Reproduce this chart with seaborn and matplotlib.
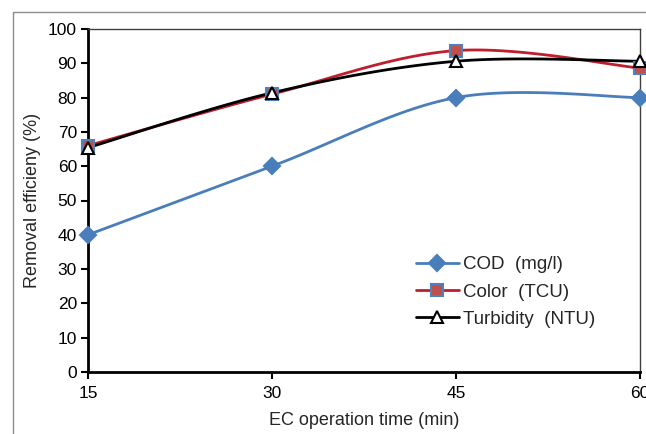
import numpy as np
import pandas as pd
import matplotlib
matplotlib.use("Agg")
import matplotlib.pyplot as plt
from matplotlib.patches import Rectangle
import seaborn as sns

time_min = [15, 30, 45, 60]
cod = [40, 60, 80, 80]
color_tcu = [66, 81, 93.7, 88.6]
turbidity = [65.4, 81.4, 90.6, 90.6]

series_names = ["COD  (mg/l)", "Color  (TCU)", "Turbidity  (NTU)"]
line_colors = ["#4a7ebb", "#be1e2d", "#000000"]
marker_face = ["#4a7ebb", "#c0504d", "white"]
marker_edge = ["#4a7ebb", "#4f81bd", "#000000"]
markers = ["D", "s", "^"]
marker_sizes = [8, 8, 9]


def smooth(xs, ys, n=40):
    # excel style smoothed line (catmull-rom as cubic bezier)
    pts = np.column_stack([xs, ys]).astype(float)
    p = np.vstack([pts[0], pts, pts[-1]])
    out = []
    t = np.linspace(0, 1, n)[:, None]
    for i in range(1, len(p) - 2):
        p0, p1, p2, p3 = p[i - 1], p[i], p[i + 1], p[i + 2]
        c1 = p1 + (p2 - p0) / 6
        c2 = p2 - (p3 - p1) / 6
        seg = ((1 - t) ** 3) * p1 + 3 * ((1 - t) ** 2) * t * c1 + 3 * (1 - t) * t ** 2 * c2 + t ** 3 * p2
        out.append(seg if i == 1 else seg[1:])
    return np.vstack(out)


sns.set_style("white")
plt.rcParams["font.family"] = ["Liberation Sans", "DejaVu Sans"]

fig = plt.figure(figsize=(6.46, 4.34), dpi=100)
ax = fig.add_axes([88 / 646, 1 - 372 / 434, 552 / 646, 343 / 434])

# outer chart frame
fig.patches.append(Rectangle((13 / 646, -0.1), 1.2, 1 - 12 / 434 + 0.1, transform=fig.transFigure,
                             fill=False, edgecolor="#8c8c8c", linewidth=1.0, zorder=0))

for vals, name, lc, mf, me, mk, ms in zip([cod, color_tcu, turbidity], series_names, line_colors,
                                          marker_face, marker_edge, markers, marker_sizes):
    curve = smooth(time_min, vals)
    df = pd.DataFrame({"x": curve[:, 0], "y": curve[:, 1]})
    sns.lineplot(data=df, x="x", y="y", sort=False, ax=ax, color=lc, linewidth=2, zorder=3)
    ax.plot(time_min, vals, linestyle="none", marker=mk, markersize=ms, markerfacecolor=mf,
            markeredgecolor=me, markeredgewidth=1.5, zorder=4, clip_on=False)
    ax.plot([], [], color=lc, linewidth=2, marker=mk, markersize=ms, markerfacecolor=mf,
            markeredgecolor=me, markeredgewidth=1.5, label=name)

ax.set_xlim(15, 60)
ax.set_ylim(0, 100)
ax.set_xticks(time_min)
ax.set_yticks(range(0, 101, 10))
ax.tick_params(axis="both", labelsize=12.5, length=5, width=1.5, direction="out",
               left=True, bottom=True, colors="black", pad=3)
ax.tick_params(axis="x", pad=5)
ax.set_xlabel("EC operation time (min)", fontsize=13, labelpad=8)
ax.set_ylabel("Removal efficieny (%)", fontsize=13, labelpad=5)

for s in ["left", "bottom"]:
    ax.spines[s].set_color("black")
    ax.spines[s].set_linewidth(2)
for s in ["top", "right"]:
    ax.spines[s].set_color("#404040")
    ax.spines[s].set_linewidth(1)

ax.legend(loc="upper left", bbox_to_anchor=(0.58, 0.36), frameon=False, fontsize=13.5,
          handlelength=2.3, handletextpad=0.2, labelspacing=0.55, borderaxespad=0)

fig.savefig("out.png", dpi=100)
